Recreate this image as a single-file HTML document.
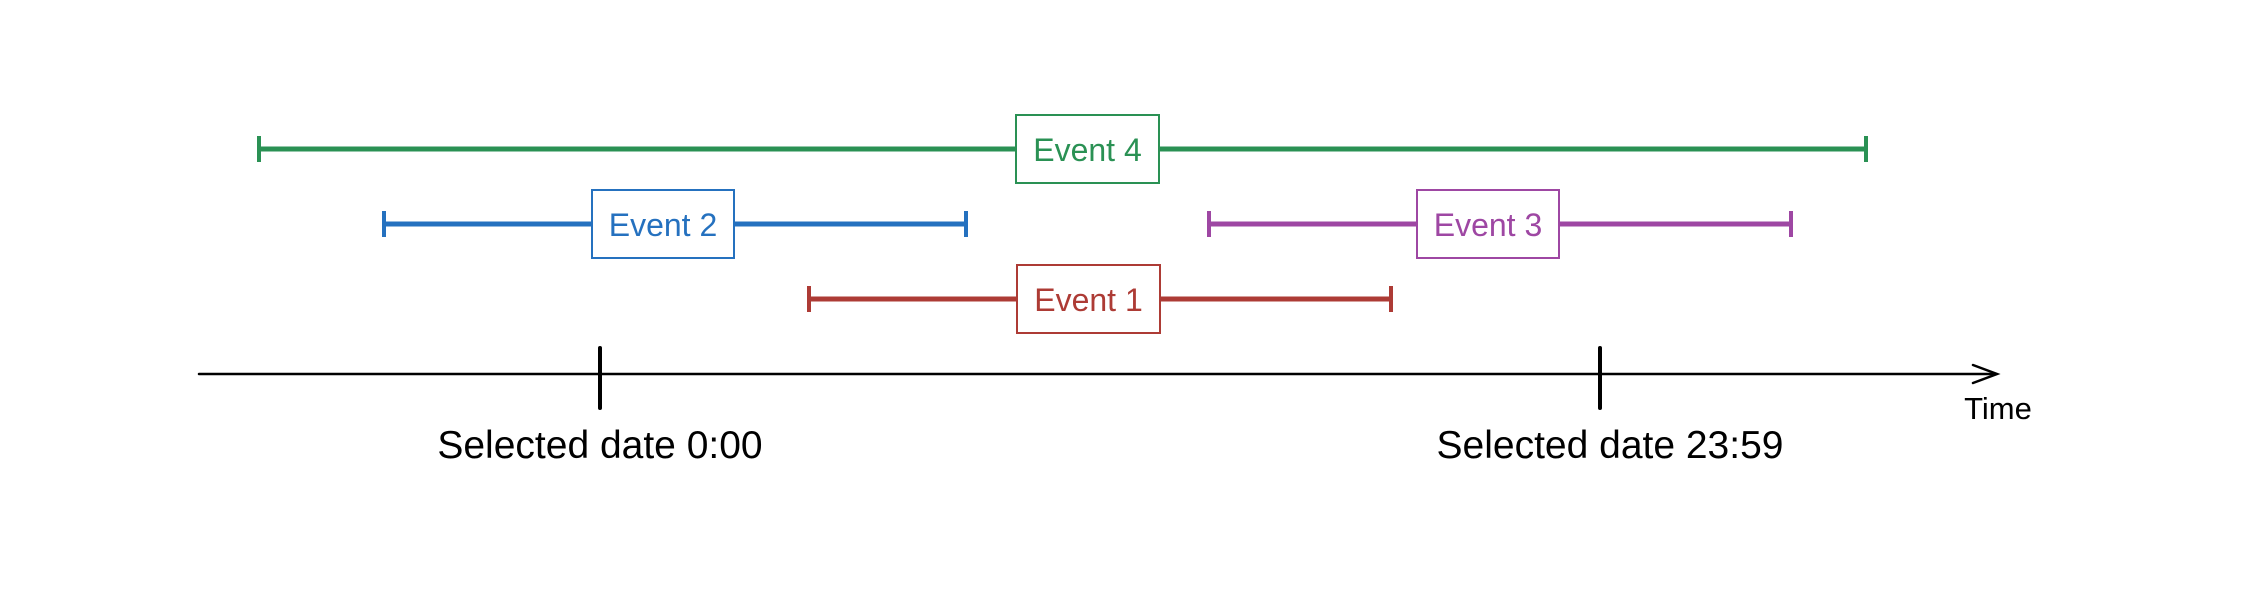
<!DOCTYPE html>
<html><head><meta charset="utf-8"><style>
html,body{margin:0;padding:0;background:#fff;}
svg{display:block;}
text{font-family:"Liberation Sans",Arial,sans-serif;}
</style></head><body>
<svg width="2249" height="599" viewBox="0 0 2249 599" xmlns="http://www.w3.org/2000/svg">
<rect width="2249" height="599" fill="#fff"/>
<g stroke="#2a9154" fill="none">
<line x1="259" y1="149" x2="1866" y2="149" stroke-width="5"/>
<line x1="259" y1="136" x2="259" y2="162" stroke-width="4"/>
<line x1="1866" y1="136" x2="1866" y2="162" stroke-width="4"/>
<rect x="1016" y="115" width="143" height="68" fill="#fff" stroke-width="2"/>
</g>
<text x="1087.5" y="161" font-size="32" fill="#2a9154" text-anchor="middle">Event 4</text>
<g stroke="#2571bf" fill="none">
<line x1="384" y1="224" x2="966" y2="224" stroke-width="5"/>
<line x1="384" y1="211" x2="384" y2="237" stroke-width="4"/>
<line x1="966" y1="211" x2="966" y2="237" stroke-width="4"/>
<rect x="592" y="190" width="142" height="68" fill="#fff" stroke-width="2"/>
</g>
<text x="663" y="236" font-size="32" fill="#2571bf" text-anchor="middle">Event 2</text>
<g stroke="#9e47a3" fill="none">
<line x1="1209" y1="224" x2="1791" y2="224" stroke-width="5"/>
<line x1="1209" y1="211" x2="1209" y2="237" stroke-width="4"/>
<line x1="1791" y1="211" x2="1791" y2="237" stroke-width="4"/>
<rect x="1417" y="190" width="142" height="68" fill="#fff" stroke-width="2"/>
</g>
<text x="1488" y="236" font-size="32" fill="#9e47a3" text-anchor="middle">Event 3</text>
<g stroke="#ad3b35" fill="none">
<line x1="809" y1="299" x2="1391" y2="299" stroke-width="5"/>
<line x1="809" y1="286" x2="809" y2="312" stroke-width="4"/>
<line x1="1391" y1="286" x2="1391" y2="312" stroke-width="4"/>
<rect x="1017" y="265" width="143" height="68" fill="#fff" stroke-width="2"/>
</g>
<text x="1088.5" y="311" font-size="32" fill="#ad3b35" text-anchor="middle">Event 1</text>
<g stroke="#000" fill="none" stroke-linecap="round">
<line x1="199" y1="374" x2="1996" y2="374" stroke-width="2.5"/>
<polyline points="1973,365 1997,374 1973,383" stroke-width="2.5"/>
<line x1="600" y1="348" x2="600" y2="408" stroke-width="4"/>
<line x1="1600" y1="348" x2="1600" y2="408" stroke-width="4"/>
</g>
<text x="1998" y="419" font-size="31" fill="#000" text-anchor="middle">Time</text>
<text x="600" y="458" font-size="39" fill="#000" text-anchor="middle">Selected date 0:00</text>
<text x="1610" y="458" font-size="39" fill="#000" text-anchor="middle">Selected date 23:59</text>
</svg>
</body></html>
